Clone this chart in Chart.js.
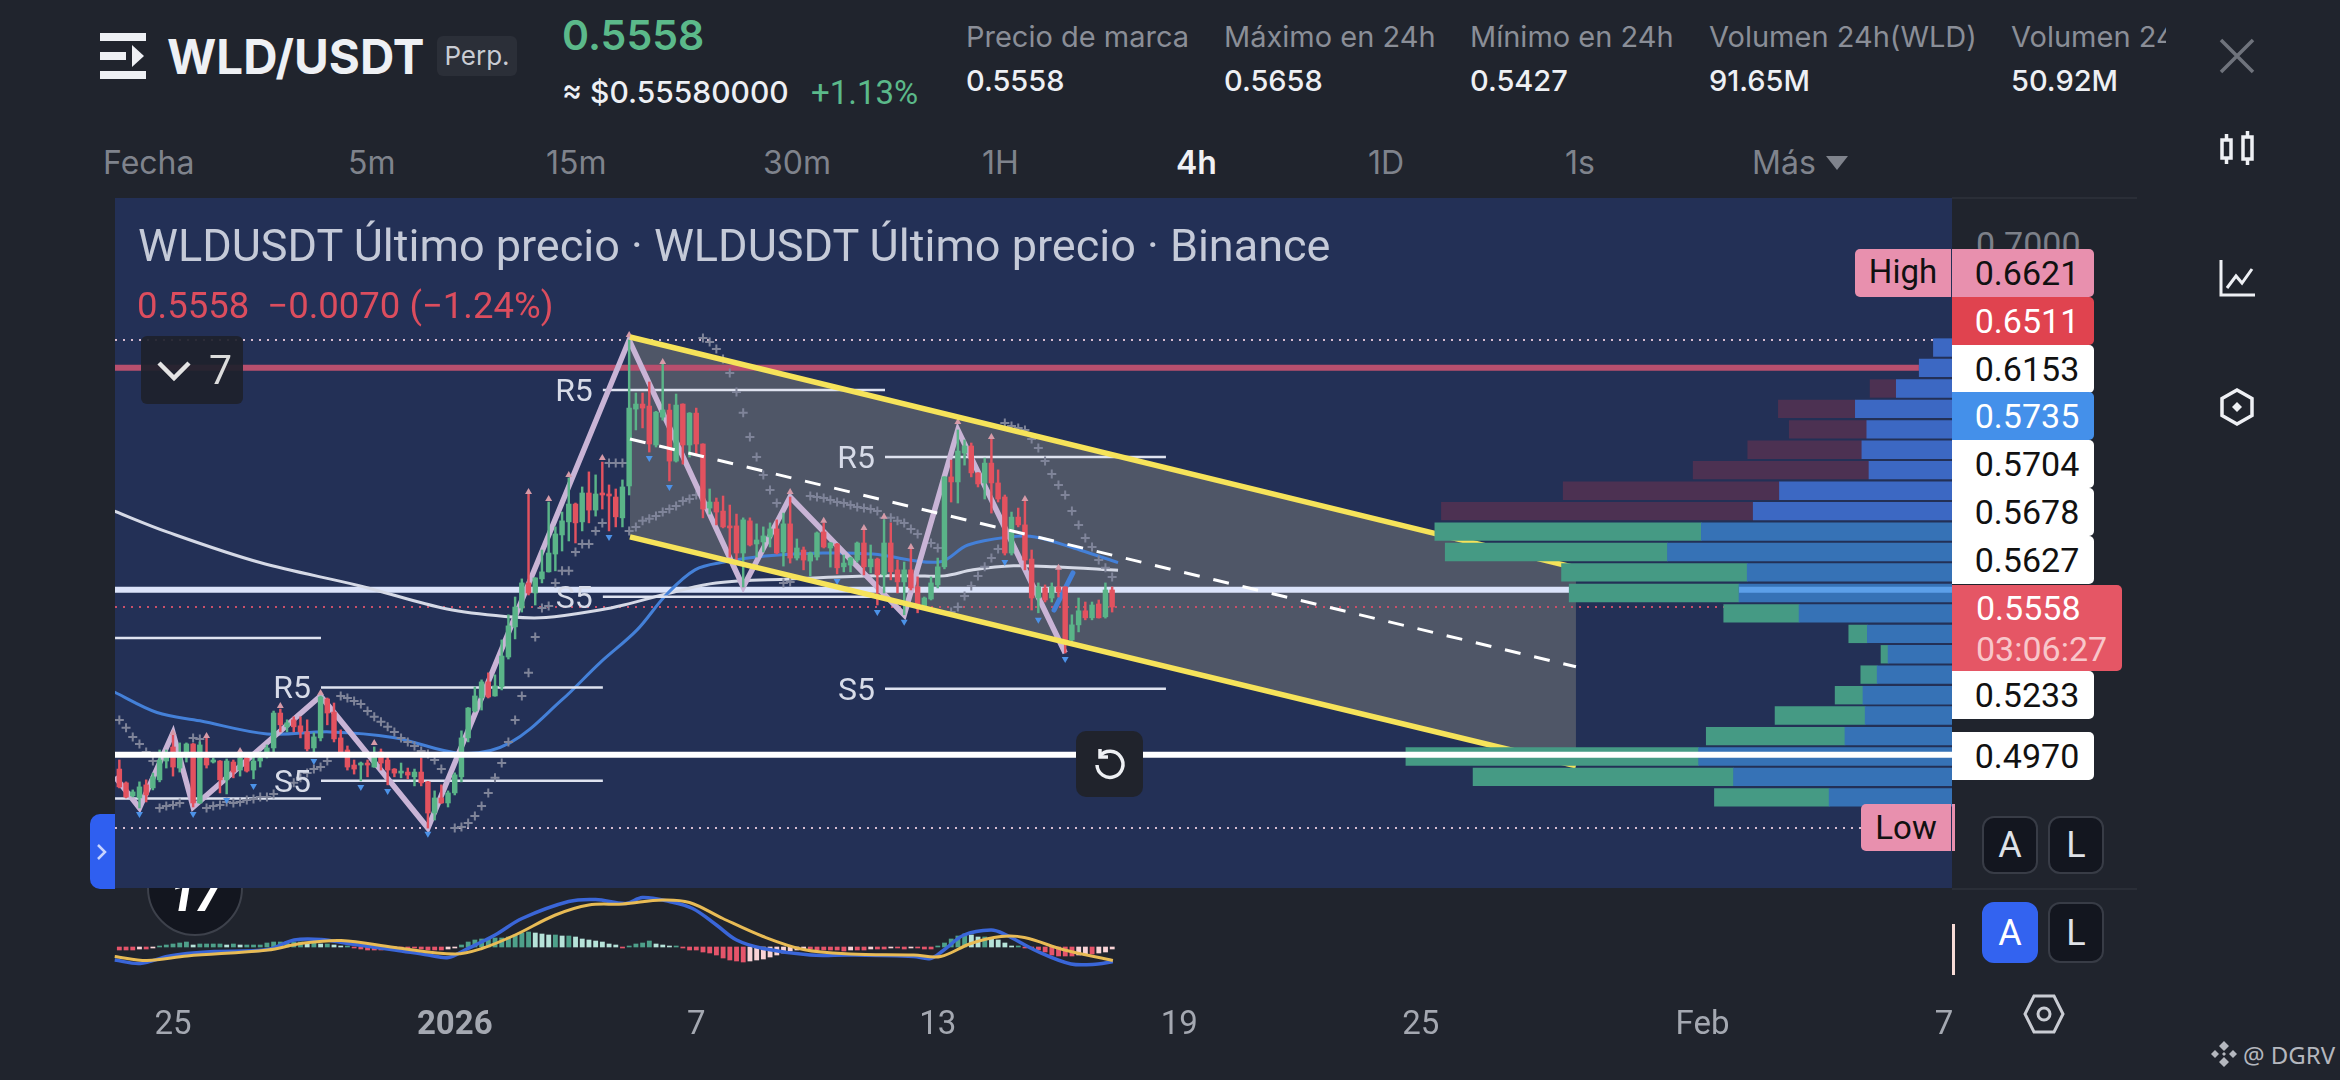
<!DOCTYPE html>
<html lang="es">
<head>
<meta charset="UTF-8">
<title>WLD/USDT</title>
<script src="https://cdn.jsdelivr.net/npm/chart.js"></script>
<style>
  html, body { margin: 0; padding: 0; width: 2340px; height: 1080px; overflow: hidden; background: #20242d; font-family: Inter, Roboto, sans-serif; }
  canvas { position: absolute; display: block; }
  .t { position: absolute; white-space: nowrap; line-height: 1; transform: translateY(-50%); }
  .lab { color: #8a8e97; font-size: 29px; top: 36px; }
  .val { color: #eef0f4; font-size: 29px; font-weight: 500; top: 80px; }
  .tab { color: #7f838c; font-size: 32px; top: 163px; }
  .tag { position: absolute; left: 1952px; width: 142px; height: 48px; box-sizing: border-box; padding-left: 8px; text-align: center; font: 34px/48px Roboto, sans-serif; border-radius: 0 5px 5px 0; color: #111; background: #fff; }
  .btn { position: absolute; width: 56px; height: 58px; box-sizing: border-box; background: #13161f; border: 2px solid #383c46; border-radius: 12px; color: #dfe2e8; font: 36px/54px Roboto, sans-serif; text-align: center; }
  svg { position: absolute; }
</style>
</head>
<body>
<div style="position:absolute;left:115px;top:198px;width:1837px;height:690px;background:#233056"></div>
<canvas id="macdChart" width="1917" height="152" style="left:75px;top:888px"></canvas>
<canvas id="mainChart" width="1837" height="690" style="left:115px;top:198px"></canvas>
<canvas id="profileChart" width="1837" height="690" style="left:115px;top:198px"></canvas>

<!-- cabecera -->
<svg style="left:100px;top:33px" width="46" height="46" viewBox="0 0 46 46" fill="#eef0f4"><rect width="46" height="8"/><rect y="38" width="46" height="8"/><rect y="19" width="26" height="8"/><path d="M32 12l12 11-12 11z"/></svg>
<div class="t" style="left:167px;top:57px;color:#eef0f4;font-size:47.500px;font-weight:700">WLD/USDT</div>
<div style="position:absolute;left:437px;top:36px;width:80px;height:40px;background:#2b2f38;border-radius:6px;color:#c9ccd3;font-size:26px;line-height:40px;text-align:center">Perp.</div>
<div class="t" style="left:562px;top:35px;color:#5bb98a;font-size:41px;font-weight:600">0.5558</div>
<div class="t" style="left:562px;top:92px;color:#eef0f4;font-size:30px;font-weight:500">≈ $0.55580000</div>
<div class="t" style="left:811px;top:92px;color:#5bb98a;font-size:33px;font-family:Roboto,sans-serif">+1.13%</div>
<div class="t lab" style="left:966px">Precio de marca</div><div class="t val" style="left:966px">0.5558</div>
<div class="t lab" style="left:1224px">Máximo en 24h</div><div class="t val" style="left:1224px">0.5658</div>
<div class="t lab" style="left:1470px">Mínimo en 24h</div><div class="t val" style="left:1470px">0.5427</div>
<div class="t lab" style="left:1709px">Volumen 24h(WLD)</div><div class="t val" style="left:1709px">91.65M</div>
<div style="position:absolute;left:2011px;top:0;width:155px;height:70px;overflow:hidden"><div class="t lab" style="left:0">Volumen 24h(USDT)</div></div><div class="t val" style="left:2011px">50.92M</div>
<div class="t tab" style="left:103px">Fecha</div>
<div class="t tab" style="left:348px">5m</div>
<div class="t tab" style="left:546px">15m</div>
<div class="t tab" style="left:763px">30m</div>
<div class="t tab" style="left:982px">1H</div>
<div class="t tab" style="left:1176px;color:#f0f1f4;font-weight:600">4h</div>
<div class="t tab" style="left:1368px">1D</div>
<div class="t tab" style="left:1565px">1s</div>
<div class="t tab" style="left:1752px">Más</div>
<svg style="left:1826px;top:156px" width="22" height="14" fill="#7f838c"><path d="M0 0h22l-11 14z"/></svg>

<!-- iconos derecha -->
<svg style="left:2219px;top:38px" width="36" height="36" stroke="#6f737c" stroke-width="3.5" fill="none"><path d="M2 2l32 32M34 2L2 34"/></svg>
<svg style="left:2219px;top:130px" width="36" height="38" stroke="#eef0f4" stroke-width="3.5" fill="none"><rect x="3" y="10" width="9" height="18"/><path d="M7.500 4v6M7.500 28v6"/><rect x="24" y="7" width="9" height="22"/><path d="M28.500 1v6M28.500 29v6"/></svg>
<svg style="left:2218px;top:258px" width="38" height="40" stroke="#eef0f4" stroke-width="3" fill="none"><path d="M3 2v35h34"/><path d="M9 30l9-12 6 7 10-14"/></svg>
<svg style="left:2220px;top:388px" width="34" height="38" stroke="#eef0f4" stroke-width="3.5" fill="none"><path d="M17 2l15 8.500v17L17 36 2 27.500v-17z"/><path d="M17 14l5 5-5 5-5-5z" fill="#eef0f4" stroke="none"/></svg>

<!-- leyenda del grafico -->
<div class="t" style="left:138px;top:245px;color:#c5cad8;font:45px Roboto,sans-serif">WLDUSDT Último precio · WLDUSDT Último precio · Binance</div>
<div class="t" style="left:137px;top:305px;color:#dc4d5e;font:36.500px Roboto,sans-serif;white-space:pre">0.5558  −0.0070 (−1.24%)</div>
<div style="position:absolute;left:141px;top:336px;width:102px;height:68px;background:rgba(30,33,44,.93);border-radius:6px"></div>
<svg style="left:157px;top:360px" width="34" height="22" stroke="#e4e4e4" stroke-width="4.500" fill="none"><path d="M2 3l15 15L32 3"/></svg>
<div class="t" style="left:209px;top:370px;color:#dcdcdc;font:41px Roboto,sans-serif">7</div>

<!-- etiquetas de precio -->
<div class="t" style="left:1976px;top:244px;color:#7c8089;font:34px Roboto,sans-serif">0.7000</div>
<div class="tag" style="top:249px;background:#e890ae">0.6621</div>
<div style="position:absolute;left:1855px;top:249px;width:96px;height:48px;background:#e890ae;border-radius:5px 0 0 5px;color:#111;font:33px/46px Roboto,sans-serif;text-align:center">High</div>
<div class="tag" style="top:297px;background:#e0434f;color:#fff">0.6511</div>
<div class="tag" style="top:345px">0.6153</div>
<div class="tag" style="top:392px;background:#4490ea;color:#fff">0.5735</div>
<div class="tag" style="top:440px">0.5704</div>
<div class="tag" style="top:488px">0.5678</div>
<div class="tag" style="top:536px">0.5627</div>
<div style="position:absolute;left:1952px;top:585px;width:170px;height:86px;background:#e55665;border-radius:0 5px 5px 0"></div>
<div class="t" style="left:1976px;top:608px;color:#fff;font:34px Roboto,sans-serif">0.5558</div>
<div class="t" style="left:1976px;top:649px;color:#f8c6ca;font:34px Roboto,sans-serif">03:06:27</div>
<div class="tag" style="top:671px">0.5233</div>
<div class="tag" style="top:732px">0.4970</div>
<div style="position:absolute;left:1861px;top:804px;width:90px;height:47px;background:#e890ae;border-radius:5px 0 0 5px;color:#111;font:33px/47px Roboto,sans-serif;text-align:center">Low</div>
<div style="position:absolute;left:1952px;top:804px;width:3px;height:47px;background:#e890ae"></div>

<div class="btn" style="left:1982px;top:816px">A</div>
<div class="btn" style="left:2048px;top:816px">L</div>
<div class="btn" style="left:1982px;top:902px;height:61px;background:#3363f0;border-color:#3363f0;line-height:58px;color:#fff">A</div>
<div class="btn" style="left:2048px;top:902px;height:61px;line-height:58px">L</div>
<div style="position:absolute;left:1952px;top:888px;width:185px;height:2px;background:#2a2e37"></div>
<div style="position:absolute;left:1952px;top:197px;width:185px;height:2px;background:#2a2e37"></div>
<div style="position:absolute;left:1952px;top:924px;width:3px;height:51px;background:#f7dcd7"></div>
<svg style="left:2023px;top:994px" width="42" height="40" stroke="#c9ccd3" stroke-width="3" fill="none"><path d="M11 2h20l9 18-9 18H11L2 20z"/><circle cx="21" cy="20" r="6"/></svg>

<!-- mando izquierdo, reset, logo -->
<div style="position:absolute;left:90px;top:814px;width:25px;height:75px;background:#2f5ff0;border-radius:10px 0 0 10px"></div>
<svg style="left:95px;top:842px" width="14" height="20" stroke="#c8d4ff" stroke-width="2.500" fill="none"><path d="M3 3l7 7-7 7"/></svg>
<div style="position:absolute;left:1076px;top:731px;width:67px;height:66px;background:#20232c;border-radius:10px"></div>
<svg style="left:1092px;top:747px" width="36" height="36" stroke="#eef0f4" stroke-width="3.500" fill="none"><path d="M8 9a13 13 0 1 1-3 9"/><path d="M8 2v8h8" /></svg>
<div style="position:absolute;left:145px;top:888px;width:100px;height:52px;overflow:hidden">
  <div style="position:absolute;left:2px;top:-48px;width:92px;height:92px;border:2px solid #3d414b;border-radius:50%;background:#13161f"></div>
  <div style="position:absolute;left:0;top:-18px;width:100%;text-align:center;color:#fff;font:italic 900 44px Roboto,sans-serif;">17</div>
</div>
<svg style="left:2210px;top:1040px" width="28" height="28" fill="#b4b7be"><path d="M14 1l5 5-5 5-5-5zM5 10l4 4-4 4-4-4zM23 10l4 4-4 4-4-4zM14 17l5 5-5 5-5-5zM14 12l2 2-2 2-2-2z"/></svg>
<div class="t" style="left:2243px;top:1054px;color:#b4b7be;font:24px 'Noto Sans',sans-serif">@ DGRV</div>

<script>
// velas 4h
const candleOpen = [
  .4913,.4858,.4806,.4798,.4850,.4838,.4870,.4945,.5001,.4917,
  .4977,.5013,.4778,.4957,.4941,.4945,.4870,.4941,.4909,.4957,
  .4909,.4945,.4977,.4997,.5136,.5081,.5109,.5085,.5061,.4997,
  .5037,.5192,.5140,.5037,.4989,.4929,.4929,.4937,.4921,.4981,
  .4949,.4913,.4897,.4901,.4882,.4901,.4862,.4738,.4798,.4778,
  .4818,.4882,.5037,.5144,.5196,.5260,.5204,.5240,.5359,.5479,
  .5554,.5654,.5614,.5670,.5698,.5769,.5845,.5897,.5968,.5897,
  .6012,.5944,.6012,.6008,.5996,.5913,.6040,.6346,.6366,.6358,
  .6203,.6314,.6342,.6139,.6366,.6203,.6330,.6207,.5952,.5976,
  .5940,.5877,.5881,.5773,.5901,.5809,.5817,.5837,.5869,.5777,
  .5889,.5753,.5785,.5741,.5757,.5857,.5793,.5809,.5718,.5725,
  .5745,.5813,.5718,.5749,.5686,.5813,.5706,.5658,.5706,.5638,
  .5554,.5590,.5646,.5718,.6076,.6056,.6171,.6199,.6092,.6052,
  .6131,.6052,.5996,.5773,.5916,.5885,.5749,.5594,.5634,.5594,
  .5638,.5638,.5427,.5487,.5543,.5515,.5570,.5519,.5626
];
const candleHigh = [
  .4949,.4862,.4830,.4862,.4870,.4897,.4989,.4989,.5057,.5017,
  .5017,.5015,.5021,.5037,.4957,.4947,.4953,.4949,.4989,.4961,
  .4961,.4981,.5009,.5144,.5152,.5109,.5121,.5121,.5109,.5057,
  .5204,.5196,.5176,.5069,.5005,.4949,.4941,.4949,.5001,.4993,
  .4977,.4915,.4937,.4917,.4913,.4957,.4864,.4826,.4850,.4826,
  .4898,.5065,.5158,.5240,.5268,.5296,.5288,.5427,.5527,.5598,
  .5670,.6008,.5675,.5785,.5976,.5877,.5936,.6072,.5972,.6036,
  .6096,.6084,.6135,.6044,.6028,.6064,.6621,.6410,.6410,.6454,
  .6337,.6529,.6366,.6406,.6367,.6332,.6350,.6208,.6028,.5992,
  .6000,.5964,.5928,.5913,.5913,.5889,.5877,.5893,.5905,.5932,
  .5996,.5829,.5797,.5777,.5857,.5893,.5815,.5811,.5765,.5757,
  .5817,.5865,.5805,.5753,.5905,.5893,.5745,.5737,.5793,.5678,
  .5598,.5678,.5753,.6077,.6143,.6263,.6223,.6211,.6093,.6151,
  .6231,.6104,.6004,.5936,.5952,.5984,.5785,.5654,.5646,.5654,
  .5706,.5639,.5527,.5594,.5578,.5578,.5586,.5654,.5638
];
const candleLow = [
  .4838,.4798,.4802,.4758,.4782,.4830,.4862,.4917,.4885,.4901,
  .4941,.4762,.4776,.4917,.4937,.4818,.4814,.4878,.4885,.4901,
  .4874,.4921,.4957,.4977,.5061,.5061,.5061,.5037,.4985,.4981,
  .5025,.5089,.5021,.4977,.4909,.4893,.4866,.4882,.4920,.4909,
  .4850,.4882,.4878,.4874,.4846,.4846,.4678,.4710,.4776,.4762,
  .4810,.4862,.5021,.5140,.5148,.5196,.5203,.5228,.5351,.5431,
  .5538,.5606,.5566,.5654,.5697,.5702,.5781,.5821,.5813,.5861,
  .5893,.5920,.5948,.5861,.5877,.5877,.6004,.6263,.6271,.6175,
  .6195,.6302,.6060,.6135,.6127,.6155,.6163,.5913,.5928,.5885,
  .5873,.5757,.5733,.5638,.5801,.5757,.5777,.5797,.5769,.5721,
  .5733,.5745,.5706,.5682,.5745,.5793,.5717,.5690,.5698,.5698,
  .5737,.5686,.5694,.5566,.5614,.5666,.5614,.5527,.5626,.5535,
  .5550,.5586,.5634,.5710,.5976,.5972,.6123,.6076,.6036,.5988,
  .5932,.5976,.5765,.5765,.5877,.5706,.5546,.5535,.5578,.5578,
  .5598,.5375,.5419,.5459,.5507,.5507,.5514,.5514,.5538
];
const candleClose = [
  .4842,.4802,.4822,.4842,.4810,.4882,.4949,.4977,.4921,.4977,
  .5013,.4778,.5009,.4929,.4949,.4870,.4945,.4901,.4957,.4905,
  .4945,.4957,.4997,.5136,.5089,.5097,.5081,.5061,.4993,.5041,
  .5200,.5136,.5033,.4981,.4921,.4913,.4933,.4929,.4977,.4937,
  .4909,.4897,.4901,.4889,.4901,.4858,.4738,.4798,.4778,.4818,
  .4890,.5037,.5156,.5204,.5260,.5200,.5244,.5363,.5483,.5558,
  .5654,.5614,.5674,.5698,.5773,.5849,.5901,.5968,.5893,.6012,
  .5944,.6008,.6004,.6000,.5917,.6036,.6350,.6366,.6350,.6207,
  .6334,.6342,.6139,.6362,.6203,.6330,.6207,.5948,.5976,.5936,
  .5877,.5873,.5773,.5905,.5805,.5825,.5841,.5869,.5773,.5889,
  .5753,.5793,.5745,.5773,.5853,.5797,.5813,.5714,.5733,.5753,
  .5813,.5718,.5749,.5686,.5813,.5698,.5658,.5706,.5634,.5554,
  .5594,.5654,.5718,.6076,.6056,.6179,.6199,.6092,.6048,.6131,
  .6052,.5988,.5773,.5916,.5885,.5745,.5594,.5638,.5586,.5638,
  .5618,.5427,.5487,.5543,.5515,.5566,.5515,.5626,.5558
];

// SAR (cruces), null donde no se ve
const sarPrice = [
  .5108,.5077,.5041,.5013,.4981,.4945,.4758,.4766,.4770,.4778,
  null,.5037,.5033,.4758,.4766,.4770,.4782,.4778,.4782,.4790,
  .4794,.4802,.4802,.4814,null,null,.4858,.4878,.4897,.4913,
  .4921,.4945,null,.5204,.5196,.5184,.5172,.5144,.5121,.5101,
  .5081,.5061,.5037,.5021,.5005,.4985,.4973,.4949,.4913,null,
  .4678,.4682,.4698,.4726,.4766,.4818,.4878,.4937,.5021,.5108,
  .5204,.5296,.5439,.5554,.5562,.5654,.5702,.5702,.5777,.5809,
  .5809,.5861,.5893,.6131,.6131,.6131,.5861,.5877,.5901,.5909,
  .5920,.5936,.5948,.5960,.5980,.5988,.6004,.6629,.6613,.6585,
  .6545,.6490,.6414,.6331,.6235,.6155,.6084,.6024,.5972,.5654,
  .5658,null,null,.6000,.5996,.5992,.5984,.5976,.5972,.5964,
  .5956,.5952,.5948,.5940,.5913,.5913,.5901,.5893,.5869,.5849,
  null,.5813,.5793,null,.5538,.5558,.5602,.5642,.5682,.5718,
  .5753,.5789,.6291,.6279,.6271,.6263,.6227,.6191,.6139,.6088,
  .6044,.6004,.5940,.5885,.5833,.5797,.5745,.5714,.5678
];

// indices de vela y precio de las marcas triangulares
const pivotHighIndex = [8,13,18,24,30,38,61,64,67,72,76,81,100,105,111,114,118,125,130,135,140];
const pivotHighPrice = [.5057,.5045,.4985,.5164,.5216,.5017,.6016,.5988,.6084,.6151,.6641,.6533,.6016,.5901,.5873,.5917,.5797,.6295,.6235,.5988,.5714];
const pivotLowIndex = [3,11,16,20,29,36,40,46,73,79,82,107,113,117,132,137,141];
const pivotLowPrice = [.4734,.4734,.4790,.4846,.4945,.4842,.4826,.4655,.5837,.6151,.6036,.5662,.5538,.5499,.5737,.5507,.5351];

// zigzag
const zigzagDay = [-1.44,-.833,0,.5,3.667,6.333,11.333,14.167,15.333,18.167,19.5,22.167];
const zigzagPrice = [.4882,.4758,.5057,.4762,.5204,.4678,.6621,.5638,.5996,.5527,.6263,.5375];
const zigzagTailDay = [21.89,22.36];
const zigzagTailPrice = [.5546,.5694];

// medias moviles
const maSlowDay = [-1.466,-.149,2.16,4.65,6.81,8.37,9.27,10.6,11.2,12.45,13.49,15.33,17.19,18.43,19.16,19.88,20.89,21.91,23.48];
const maSlowPrice = [.5940,.5857,.5735,.5642,.5550,.5519,.5516,.5546,.5566,.5618,.5654,.5670,.5682,.5682,.5682,.5706,.5722,.5718,.5704];
const maFastDay = [-1.466,-.398,.67,2.34,3.9,5.47,7.2,8.37,9.66,10.6,11.53,12.25,12.97,13.69,14.71,16.15,17.39,19.03,19.75,20.8,21.42,22.53,23.48];
const maFastPrice = [.5220,.5138,.5105,.5053,.5061,.5039,.4975,.5017,.5188,.5335,.5467,.5606,.5706,.5737,.5761,.5773,.5769,.5737,.5805,.5837,.5837,.5785,.5735];

// canal
const channelDay = [11.354,34.857];
const channelTop = [.6633,.5714];
const channelMid = [.6227,.5320];
const channelBottom = [.5837,.4926];

// pivotes R5 / S5
const pivotStart = [-1.44,-1.44,3.677,3.677,10.68,10.68,17.69,17.69];
const pivotEnd = [3.677,3.677,10.68,10.68,17.69,17.69,24.67,24.67];
const pivotPrice = [.5435,.4796,.5238,.4866,.6422,.5599,.6155,.5233];
const pivotLabels = ['','','R5','S5','R5','S5','R5','S5'];

// perfil de volumen (% de la fila mayor)
const profilePrice = [.6591,.6510,.6428,.6347,.6265,.6184,.6103,.6021,.5940,.5858,.5777,.5696,.5614,.5533,.5451,.5370,.5289,.5207,.5126,.5044,.4963,.4882,.4800];
const profileBase = [3.4,6.0,10.2,17.7,15.6,16.5,15.2,31.6,36.4,45.9,52.1,37.5,39.0,28.0,15.5,11.7,13.7,16.3,15.9,19.6,46.4,40.0,22.5];
const profileOuter = [0,0,4.8,14.1,14.2,20.9,32.2,39.6,57.1,48.8,40.7,34.0,31.1,13.8,3.4,1.3,3.0,5.1,16.5,25.4,53.6,47.7,21.0];

// MACD
const macdDay = [-1.448,-.816,-.15,.35,1.02,2.35,3.01,3.68,4.34,5.51,6.34,6.84,7.25,8.0,8.67,9.83,10.5,11.25,11.66,12.33,12.91,13.5,14.0,14.66,15.83,16.82,18.4,18.82,19.15,19.65,20.32,20.65,21.48,22.31,22.98,23.35];
const macdLine = [-.0026,-.0033,-.0019,-.0013,-.0009,-.0005,.0014,.0015,.0007,-.0006,-.0016,-.0021,-.0006,.0024,.0057,.0091,.0095,.0087,.0099,.0091,.0077,.0044,.0014,-.0003,-.0016,-.0016,-.0019,-.0023,-.0006,.0024,.0034,.0026,-.0009,-.0034,-.0034,-.0029];
const signalDay = [-1.448,-.65,.35,2.35,3.18,4.18,5.51,7.0,7.67,8.5,9.5,10.33,11.17,12.16,12.83,13.66,14.66,15.66,16.82,18.4,19.07,19.82,20.57,21.15,22.15,23.35];
const signalLine = [-.0019,-.0027,-.0018,-.0006,.0007,.0013,-.0001,-.0014,-.0003,.0024,.0064,.0084,.0086,.0094,.0089,.0057,.0021,-.0005,-.0014,-.0016,-.0019,.0007,.0021,.0019,-.0006,-.0027];
const macdHist = [
  -.0006,-.0006,-.0006,-.0004,-.0004,-.0002,.0002,.0004,.0006,.0008,
  .0010,.0004,.0006,.0006,.0006,.0006,.0004,.0006,.0004,.0004,
  .0004,.0004,.0008,.0010,.0010,.0010,.0010,.0010,.0008,.0008,
  .0006,.0006,.0004,.0002,.0002,-.0002,-.0004,-.0006,-.0006,-.0006,
  -.0004,-.0002,-.0002,-.0002,-.0002,-.0004,-.0006,-.0006,-.0006,-.0004,
  -.0002,.0004,.0010,.0014,.0016,.0016,.0018,.0018,.0020,.0024,
  .0028,.0030,.0028,.0026,.0024,.0024,.0022,.0022,.0020,.0016,
  .0014,.0012,.0010,.0006,.0004,-.0002,.0002,.0006,.0008,.0012,
  .0006,.0004,.0002,.0002,-.0002,-.0006,-.0006,-.0010,-.0012,-.0016,
  -.0022,-.0026,-.0028,-.0030,-.0028,-.0026,-.0024,-.0020,-.0016,-.0012,
  -.0008,-.0006,-.0004,-.0004,-.0006,-.0006,-.0006,-.0006,-.0008,-.0006,
  -.0006,-.0006,-.0004,-.0004,-.0004,-.0002,-.0002,-.0004,-.0002,-.0002,
  -.0004,-.0004,.0002,.0008,.0016,.0022,.0026,.0024,.0020,.0020,
  .0018,.0014,.0008,.0002,.0002,-.0002,-.0002,-.0006,-.0010,-.0016,
  -.0018,-.0018,-.0018,-.0016,-.0014,-.0014,-.0012,-.0010,-.0004
];

// eje de tiempo: dias desde el 25 de diciembre
const tickDays = [0,7,13,19,25,31,38,44];
const tickLabels = ['25','2026','7','13','19','25','Feb','7'];

const GREEN = '#5ab488', RED = '#e2525f';
const xMin = -1.441, xMax = 44.2, yMin = .44395, yMax = .71863;
const candleDay = i => -1.3333 + i / 6;
const pts = (xs, ys) => xs.map((x, i) => ({ x: x, y: ys[i] }));
const candleColor = candleOpen.map((o, i) => candleClose[i] >= o ? GREEN : RED);

function lineSet(data, color, width, extra) {
  return Object.assign({ type: 'line', data: data, borderColor: color, borderWidth: width, pointRadius: 0, fill: false }, extra);
}
function hLine(price, color, width, dash) {
  return lineSet([{ x: xMin, y: price }, { x: xMax, y: price }], color, width, { borderDash: dash || [] });
}

const dotted = [2, 6];
const mainSets = [
  lineSet(pts(channelDay, channelTop), 'transparent', 0, { fill: '+1', backgroundColor: 'rgba(170,163,140,.33)' }),
  lineSet(pts(channelDay, channelBottom), 'transparent', 0),
  hLine(.6621, '#d8bcd0', 2, dotted),
  hLine(.4678, '#d8bcd0', 2, dotted),
  hLine(.5558, '#c9506a', 2, dotted),
  hLine(.6511, '#b84f6e', 6),
  hLine(.5627, '#dbe3fa', 6),
  lineSet(pts(maSlowDay, maSlowPrice), '#d5d9e6', 3, { tension: .35 }),
  lineSet(pts(maFastDay, maFastPrice), '#4480d8', 3, { tension: .35 })
];
pivotPrice.forEach((p, i) => {
  mainSets.push(lineSet([{ x: pivotStart[i], y: p }, { x: pivotEnd[i], y: p }], '#dfe3f0', 2.5));
});
mainSets.push(
  lineSet(sarPrice.map((p, i) => ({ x: candleDay(i), y: p })), '#7f8499', 2, { showLine: false, pointStyle: 'cross', pointRadius: 4.5, pointBorderColor: '#7f8499', pointBorderWidth: 2 }),
  lineSet(pts(zigzagDay, zigzagPrice), '#c9b4d6', 5.500, { tension: 0 }),
  lineSet(pts(zigzagTailDay, zigzagTailPrice), '#4480d8', 5, { borderCapStyle: 'round' }),
  { type: 'bar', data: candleHigh.map((h, i) => ({ x: candleDay(i), y: [candleLow[i], h] })), backgroundColor: candleColor, barThickness: 1.8, grouped: false },
  { type: 'bar', data: candleOpen.map((o, i) => ({ x: candleDay(i), y: [o, candleClose[i]] })), backgroundColor: candleColor, barThickness: 4.8, minBarLength: 2, grouped: false },
  lineSet(pivotHighIndex.map((n, i) => ({ x: candleDay(n), y: pivotHighPrice[i] })), '#d69aa8', 0, { showLine: false, pointStyle: 'triangle', pointRadius: 4, pointBackgroundColor: '#d69aa8', pointBorderWidth: 0 }),
  lineSet(pivotLowIndex.map((n, i) => ({ x: candleDay(n), y: pivotLowPrice[i] })), '#4c92e8', 0, { showLine: false, pointStyle: 'triangle', pointRotation: 180, pointRadius: 4, pointBackgroundColor: '#4c92e8', pointBorderWidth: 0 }),
  lineSet(pts(channelDay, channelMid), '#ffffff', 3, { borderDash: [16, 14] }),
  lineSet(pts(channelDay, channelTop), '#f6e35a', 5.500),
  lineSet(pts(channelDay, channelBottom), '#f6e35a', 5.500)
);
// lo primero de la lista queda debajo
mainSets.forEach((d, i) => { d.order = mainSets.length - i; });

// etiquetas R5 / S5 junto a cada pivote
const pivotLabelPlugin = {
  id: 'pivotLabels',
  afterDatasetsDraw(chart) {
    const ctx = chart.ctx;
    ctx.save();
    ctx.font = '32px Roboto, sans-serif';
    ctx.fillStyle = '#d7dbe8';
    ctx.textAlign = 'right';
    ctx.textBaseline = 'middle';
    pivotLabels.forEach((t, i) => {
      if (!t) return;
      ctx.fillText(t, chart.scales.x.getPixelForValue(pivotStart[i]) - 10, chart.scales.y.getPixelForValue(pivotPrice[i]) + 3);
    });
    ctx.restore();
  }
};

new Chart(document.getElementById('mainChart').getContext('2d'), {
  type: 'line',
  data: { datasets: mainSets },
  plugins: [pivotLabelPlugin],
  options: {
    responsive: false,
    animation: false,
    events: [],
    layout: { autoPadding: false, padding: 0 },
    plugins: { legend: { display: false }, tooltip: { enabled: false } },
    scales: {
      x: { type: 'linear', display: false, min: xMin, max: xMax, offset: false },
      y: { type: 'linear', display: false, min: yMin, max: yMax }
    }
  }
});

// perfil de volumen encima, con la linea 0.4970 por delante
const volMax = 336.4;
const profileIsLong = profileOuter.map((v, i) => i < 9);
new Chart(document.getElementById('profileChart').getContext('2d'), {
  type: 'bar',
  data: {
    datasets: [
      { type: 'line', xAxisID: 'x2', data: [{ x: 0, y: .4970 }, { x: volMax, y: .4970 }], borderColor: '#ffffff', borderWidth: 6, pointRadius: 0, order: 1 },
      { type: 'line', xAxisID: 'x2', data: [{ x: 0, y: .5627 }, { x: profileBase[12], y: .5627 }], borderColor: '#5c9fe8', borderWidth: 6, pointRadius: 0, order: 2 },
      { data: pts(profileBase, profilePrice), backgroundColor: profileIsLong.map(u => u ? '#3c68c3' : '#3672b6'), barThickness: 17.7, order: 3 },
      { data: pts(profileOuter, profilePrice), backgroundColor: profileIsLong.map(u => u ? '#4c3152' : '#459a84'), barThickness: 17.7, order: 3 }
    ]
  },
  options: {
    indexAxis: 'y',
    responsive: false,
    animation: false,
    events: [],
    layout: { autoPadding: false, padding: 0 },
    plugins: { legend: { display: false }, tooltip: { enabled: false } },
    scales: {
      x: { type: 'linear', display: false, reverse: true, min: 0, max: volMax, stacked: true },
      x2: { type: 'linear', axis: 'x', display: false, reverse: true, min: 0, max: volMax },
      y: { type: 'linear', display: false, min: yMin, max: yMax, offset: false, stacked: true }
    }
  }
});

// panel MACD con el eje de fechas
new Chart(document.getElementById('macdChart').getContext('2d'), {
  type: 'bar',
  data: {
    datasets: [
      { type: 'line', data: pts(signalDay, signalLine), borderColor: '#e8bb55', borderWidth: 3, pointRadius: 0, tension: .35, order: 1 },
      { type: 'line', data: pts(macdDay, macdLine), borderColor: '#3a66d8', borderWidth: 3.5, pointRadius: 0, tension: .35, order: 2 },
      {
        data: macdHist.map((v, i) => ({ x: candleDay(i), y: v })),
        backgroundColor: macdHist.map((v, i) => {
          const prev = i ? macdHist[i - 1] : v;
          if (v >= 0) return v >= prev ? '#4ea08a' : '#b6e3d9';
          return v <= prev ? '#e5546a' : '#f9d3d6';
        }),
        barThickness: 4.2,
        order: 3
      }
    ]
  },
  options: {
    responsive: false,
    animation: false,
    events: [],
    layout: { autoPadding: false, padding: 0 },
    plugins: { legend: { display: false }, tooltip: { enabled: false } },
    scales: {
      x: {
        type: 'linear',
        min: -2.435,
        max: 45.19,
        offset: false,
        grid: { display: false, offset: false },
        border: { display: false },
        afterBuildTicks: axis => { axis.ticks = tickDays.map(v => ({ value: v })); },
        afterFit: axis => { axis.height = 60; },
        ticks: {
          autoSkip: false,
          maxRotation: 0,
          padding: 18,
          color: '#a4a8b1',
          font: ctx => ({ family: 'Roboto, sans-serif', size: 33, weight: ctx.tick && ctx.tick.value === 7 ? '700' : '400' }),
          callback: value => tickLabels[tickDays.indexOf(value)]
        }
      },
      y: { type: 'linear', display: false, min: -.0066, max: .0118 }
    }
  }
});
</script>
</body>
</html>
